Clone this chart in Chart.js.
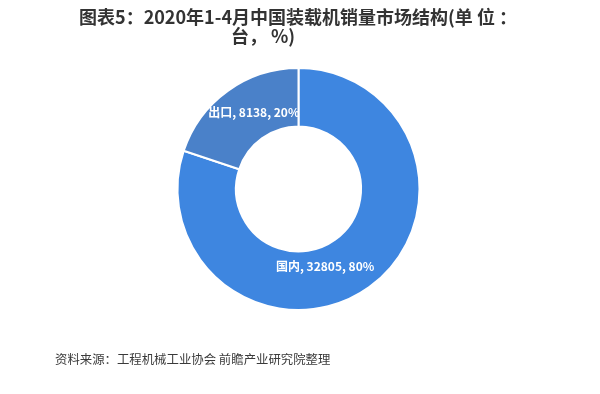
<!DOCTYPE html>
<html>
<head>
<meta charset="utf-8">
<script src="https://cdn.jsdelivr.net/npm/chart.js@4/dist/chart.umd.min.js"></script>
<style>
  html, body { margin: 0; padding: 0; background: #fff; }
  #wrap { width: 600px; height: 394px; position: relative; }
</style>
</head>
<body>
<div id="wrap"><canvas id="myChart"></canvas></div>
<script>
// data
const categories = ["国内", "出口"];
const sales = [32805, 8138];
const shares = ["80%", "20%"];
const sliceColors = ["#3e86e0", "#4a81c9"];

const titleLines = ["图表5：2020年1-4月中国装载机销量市场结构(单 位 ：", "台， %)"];
const sourceText = "资料来源：工程机械工业协会 前瞻产业研究院整理";

const fontCJK = "'Noto Sans CJK SC', 'Noto Sans', sans-serif";

// title, source and the slice labels
const textPlugin = {
  id: "texts",
  afterDraw(chart) {
    const ctx = chart.ctx;
    ctx.save();
    ctx.fillStyle = "#333";
    ctx.textAlign = "center";
    ctx.textBaseline = "middle";
    ctx.font = "bold 18px " + fontCJK;
    ctx.fillText(titleLines[0], 298, 17);
    ctx.fillText(titleLines[1], 263, 36);

    ctx.textAlign = "left";
    ctx.font = "12.4px " + fontCJK;
    ctx.fillStyle = "#3a3a3a";
    ctx.fillText(sourceText, 55, 359);

    // labels inside the slices
    const meta = chart.getDatasetMeta(0);
    const nudges = [[-27, 3], [9, -2]];
    ctx.fillStyle = "#fff";
    ctx.textAlign = "center";
    ctx.font = "bold 12px " + fontCJK;
    meta.data.forEach((arc, i) => {
      const p = arc.tooltipPosition();
      const txt = categories[i] + ", " + sales[i] + ", " + shares[i];
      ctx.fillText(txt, p.x + nudges[i][0], p.y + nudges[i][1]);
    });
    ctx.restore();
  }
};

new Chart(document.getElementById("myChart"), {
  type: "doughnut",
  data: {
    labels: categories,
    datasets: [{
      data: sales,
      backgroundColor: sliceColors,
      borderColor: "#fff",
      borderWidth: 2,
      hoverOffset: 0
    }]
  },
  options: {
    responsive: true,
    maintainAspectRatio: false,
    animation: false,
    radius: 121,
    cutout: 62,
    layout: { padding: { top: 68, bottom: 84, left: 177, right: 180 } },
    plugins: {
      legend: { display: false },
      tooltip: { enabled: false },
      title: { display: false }
    }
  },
  plugins: [textPlugin]
});
</script>
</body>
</html>
